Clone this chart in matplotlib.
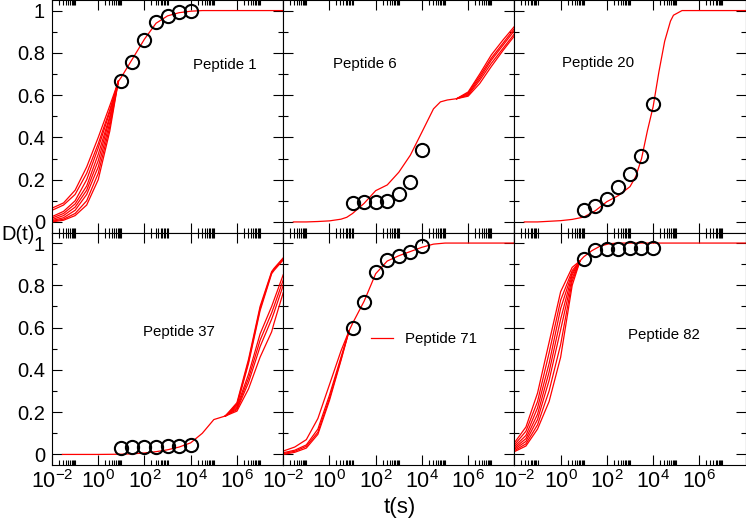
import matplotlib
matplotlib.use("Agg")
import matplotlib.pyplot as plt
import numpy as np
from matplotlib.ticker import FixedLocator, FixedFormatter, NullFormatter

plt.rcParams['font.family'] = ['Liberation Sans', 'DejaVu Sans']
plt.rcParams['mathtext.default'] = 'regular'

# measurement times (s)
obs_t = [10, 30, 100, 300, 1000, 3000, 10000]

# ---- Peptide 1 ----
p1_obs = [0.668, 0.757, 0.862, 0.948, 0.976, 0.992, 0.997]
p1_fan_lt = [-2, -1.5, -1, -0.5, 0, 0.5, 0.87]
p1_fan = [
    [0.065, 0.09, 0.15, 0.26, 0.40, 0.55, 0.665],
    [0.055, 0.08, 0.13, 0.23, 0.37, 0.53, 0.665],
    [0.025, 0.05, 0.10, 0.20, 0.35, 0.52, 0.665],
    [0.018, 0.04, 0.085, 0.17, 0.32, 0.50, 0.665],
    [0.011, 0.03, 0.07, 0.15, 0.29, 0.49, 0.665],
    [0.006, 0.02, 0.055, 0.13, 0.26, 0.47, 0.665],
    [0.003, 0.013, 0.04, 0.10, 0.23, 0.45, 0.665],
    [0.0, 0.008, 0.03, 0.08, 0.20, 0.43, 0.665],
]
p1_base_lt = [0.87, 1.0, 1.5, 2.0, 2.5, 3.0, 3.5, 4.0, 4.5, 8.0]
p1_base = [0.665, 0.685, 0.775, 0.865, 0.94, 0.975, 0.99, 0.997, 1.0, 1.0]

# ---- Peptide 6 ----
p6_obs = [0.089, 0.093, 0.093, 0.098, 0.133, 0.191, 0.341]
p6_base_lt = [-1.56, -1, -0.5, 0, 0.5, 0.75, 1.0, 1.5, 2.0, 2.5, 3.0, 3.5, 4.0, 4.5, 4.8, 5.1, 5.5]
p6_base = [0.0, 0.0, 0.002, 0.005, 0.013, 0.022, 0.04, 0.088, 0.148, 0.175, 0.235, 0.316, 0.425, 0.535, 0.568, 0.577, 0.583]
p6_fan_lt = [5.5, 6.0, 6.5, 7.0, 7.5, 8.0]
p6_fan = [
    [0.583, 0.615, 0.70, 0.79, 0.86, 0.925],
    [0.583, 0.61, 0.69, 0.775, 0.845, 0.915],
    [0.583, 0.605, 0.68, 0.765, 0.835, 0.905],
    [0.583, 0.60, 0.67, 0.75, 0.82, 0.89],
    [0.583, 0.595, 0.655, 0.735, 0.81, 0.88],
]

# ---- Peptide 20 ----
p20_obs = [0.057, 0.076, 0.109, 0.164, 0.226, 0.31, 0.559]
p20_base_lt = [-1.57, -1, 0, 0.5, 1.0, 1.5, 2.0, 2.5, 3.0, 3.25, 3.5, 3.75, 4.0, 4.25, 4.5, 4.75, 4.88, 5.25, 8.0]
p20_base = [0.0, 0.0, 0.006, 0.012, 0.023, 0.053, 0.096, 0.125, 0.167, 0.215, 0.30, 0.43, 0.545, 0.71, 0.855, 0.95, 0.978, 1.0, 1.0]

# ---- Peptide 37 ----
p37_obs = [0.030, 0.033, 0.035, 0.035, 0.038, 0.038, 0.043]
p37_base_lt = [-1.55, 0, 1.0, 1.5, 2.0, 2.5, 3.0, 3.5, 4.0, 4.5, 5.0, 5.5]
p37_base = [0.0, 0.0, 0.001, 0.003, 0.007, 0.013, 0.022, 0.035, 0.055, 0.10, 0.165, 0.182]
p37_fan_lt = [5.5, 6.0, 6.5, 7.0, 7.5, 7.6, 8.0]
p37_fan = [
    [0.182, 0.245, 0.45, 0.70, 0.865, 0.88, 0.93],
    [0.182, 0.238, 0.44, 0.69, 0.86, 0.875, 0.925],
    [0.182, 0.232, 0.43, 0.68, 0.855, 0.87, 0.92],
    [0.182, 0.225, 0.38, 0.57, 0.70, 0.73, 0.85],
    [0.182, 0.218, 0.36, 0.54, 0.67, 0.70, 0.825],
    [0.182, 0.212, 0.34, 0.51, 0.64, 0.67, 0.80],
    [0.182, 0.205, 0.31, 0.46, 0.58, 0.62, 0.765],
]

# ---- Peptide 71 ----
p71_obs = [0.60, 0.719, 0.861, 0.921, 0.94, 0.96, 0.984]
p71_fan_lt = [-2, -1.5, -1, -0.5, 0, 0.5, 0.85]
p71_fan = [
    [0.016, 0.035, 0.07, 0.17, 0.33, 0.49, 0.585],
    [0.008, 0.02, 0.045, 0.12, 0.28, 0.46, 0.585],
    [0.004, 0.015, 0.038, 0.105, 0.265, 0.45, 0.585],
    [0.0, 0.01, 0.03, 0.095, 0.255, 0.445, 0.585],
]
p71_base_lt = [0.85, 1.0, 1.5, 2.0, 2.5, 3.0, 3.5, 4.0, 4.5, 5.0, 8.0]
p71_base = [0.585, 0.62, 0.725, 0.855, 0.915, 0.94, 0.96, 0.98, 0.995, 1.0, 1.0]

# ---- Peptide 82 ----
p82_obs = [0.924, 0.967, 0.972, 0.972, 0.975, 0.975, 0.976]
p82_fan_lt = [-2, -1.5, -1, -0.5, 0, 0.5, 0.84]
p82_fan = [
    [0.055, 0.13, 0.29, 0.53, 0.77, 0.885, 0.916],
    [0.045, 0.11, 0.25, 0.48, 0.73, 0.87, 0.916],
    [0.037, 0.09, 0.22, 0.43, 0.69, 0.86, 0.916],
    [0.03, 0.075, 0.19, 0.39, 0.64, 0.85, 0.916],
    [0.024, 0.062, 0.165, 0.35, 0.59, 0.835, 0.916],
    [0.018, 0.05, 0.14, 0.30, 0.52, 0.82, 0.916],
    [0.013, 0.04, 0.12, 0.25, 0.46, 0.80, 0.916],
]
p82_base_lt = [0.84, 1.0, 1.35, 1.7, 2.1, 2.5, 8.0]
p82_base = [0.916, 0.935, 0.964, 0.985, 0.997, 1.0, 1.0]

panels = [
    ('Peptide 1', p1_obs, [(p1_base_lt, p1_base)] + [(p1_fan_lt, c) for c in p1_fan]),
    ('Peptide 6', p6_obs, [(p6_base_lt, p6_base)] + [(p6_fan_lt, c) for c in p6_fan]),
    ('Peptide 20', p20_obs, [(p20_base_lt, p20_base)]),
    ('Peptide 37', p37_obs, [(p37_base_lt, p37_base)] + [(p37_fan_lt, c) for c in p37_fan]),
    ('Peptide 71', p71_obs, [(p71_base_lt, p71_base)] + [(p71_fan_lt, c) for c in p71_fan]),
    ('Peptide 82', p82_obs, [(p82_base_lt, p82_base)] + [(p82_fan_lt, c) for c in p82_fan]),
]

# label placement (axes fraction)
label_pos = [(0.61, 0.72), (0.216, 0.725), (0.204, 0.728),
             (0.395, 0.573), (0.381, 0.541), (0.49, 0.559)]

xmajor = [1e-2, 1e0, 1e2, 1e4, 1e6, 1e8]
xminor = [k * 10.0 ** e for e in (-2, 0, 2, 4, 6) for k in range(2, 11)]
xlabels = ['$10^{-2}$', '$10^{0}$', '$10^{2}$', '$10^{4}$', '$10^{6}$', '']
ymajor = [0, 0.2, 0.4, 0.6, 0.8, 1.0]
yminor = [0.1, 0.3, 0.5, 0.7, 0.9]
ylabels = ['0', '0.2', '0.4', '0.6', '0.8', '1']

W, H = 746, 522
fig = plt.figure(figsize=(W / 100, H / 100), dpi=100)

left0 = 52 / W
cw = 231.2 / W
rh = 232.5 / H
bottoms = [1 - rh, 1 - 2 * rh]

for i, (name, obs, curves) in enumerate(panels):
    row, col = divmod(i, 3)
    ax = fig.add_axes([left0 + col * cw, bottoms[row], cw, rh])
    lines = []
    for lt, vals in curves:
        ln, = ax.plot(10.0 ** np.array(lt), vals, color='red', lw=0.9, zorder=2)
        lines.append(ln)
    ax.plot(obs_t, obs, 'o', mfc='none', mec='black', ms=9.5, mew=1.5, zorder=3)

    ax.set_xscale('log')
    ax.set_xlim(1e-2, 1e8)
    ax.set_ylim(-0.05, 1.05)
    ax.xaxis.set_major_locator(FixedLocator(xmajor))
    ax.xaxis.set_minor_locator(FixedLocator(xminor))
    ax.xaxis.set_minor_formatter(NullFormatter())
    ax.yaxis.set_major_locator(FixedLocator(ymajor))
    ax.yaxis.set_minor_locator(FixedLocator(yminor))
    if row == 1:
        ax.xaxis.set_major_formatter(FixedFormatter(xlabels))
    else:
        ax.xaxis.set_major_formatter(NullFormatter())
    if col == 0:
        ax.yaxis.set_major_formatter(FixedFormatter(ylabels))
    else:
        ax.yaxis.set_major_formatter(NullFormatter())

    ax.tick_params(which='both', direction='in', top=True, right=True,
                   width=0.8, color='black')
    ax.tick_params(which='major', length=7.2)
    ax.tick_params(which='minor', length=3.6)
    ax.tick_params(axis='x', pad=4, labelsize=15.5)
    ax.tick_params(axis='y', pad=5, labelsize=14.5)
    for sp in ax.spines.values():
        sp.set_linewidth(0.8)

    lx, ly = label_pos[i]
    if name == 'Peptide 71':
        ax.legend([lines[0]], [name], loc='center left', bbox_to_anchor=(lx, ly),
                  frameon=False, borderpad=0, borderaxespad=0, handlelength=1.44,
                  handletextpad=0.8, fontsize=10.8)
    else:
        ax.text(lx, ly, name, transform=ax.transAxes, ha='left', va='center',
                fontsize=10.8)

fig.text(1 / W, 1 - 235 / H, 'D(t)', ha='left', va='center', fontsize=14.5)
fig.text(400 / W, 1 - 508 / H, 't(s)', ha='center', va='center', fontsize=16)

fig.savefig('out.png', dpi=100)
